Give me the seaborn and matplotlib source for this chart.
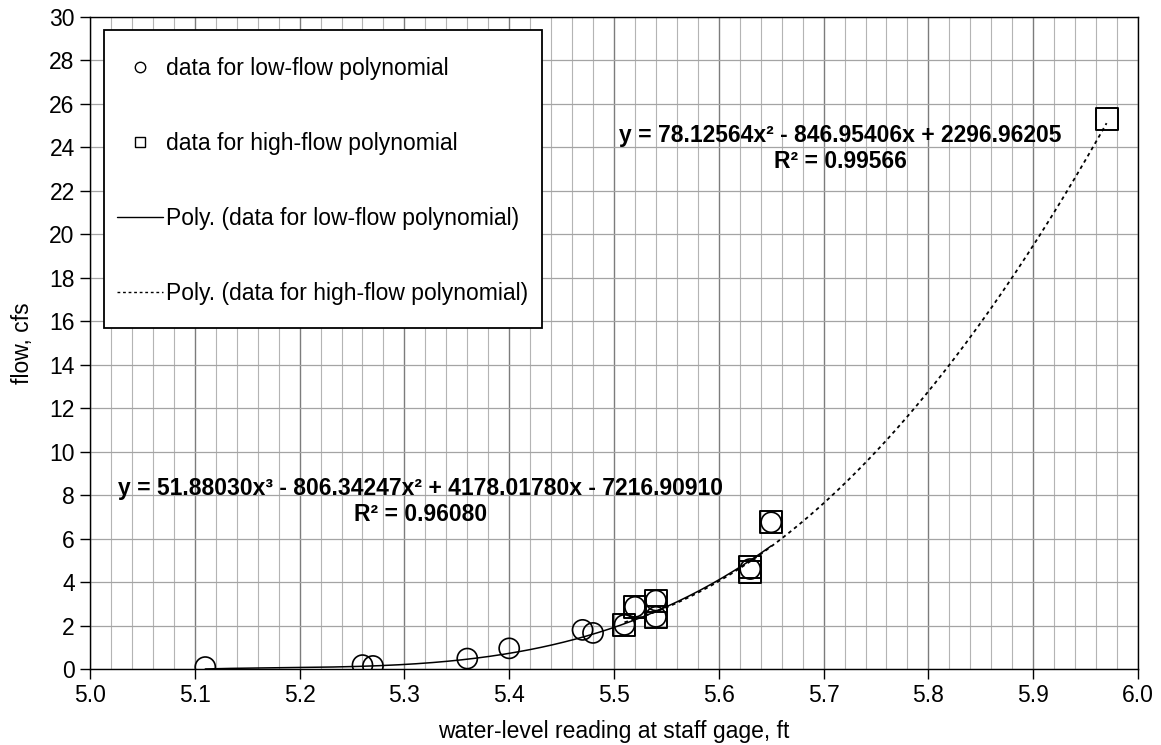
import numpy as np
import pandas as pd
import matplotlib
matplotlib.use("Agg")
import matplotlib.pyplot as plt
from matplotlib.lines import Line2D
from matplotlib.patches import Rectangle
from matplotlib.ticker import MultipleLocator
import seaborn as sns

# data
low_x = [5.11, 5.26, 5.27, 5.36, 5.40, 5.47, 5.48, 5.51, 5.52, 5.54, 5.54, 5.63, 5.65]
low_y = [0.09, 0.18, 0.14, 0.48, 0.95, 1.80, 1.66, 2.03, 2.86, 3.15, 2.40, 4.60, 6.75]
high_x = [5.51, 5.52, 5.54, 5.54, 5.63, 5.63, 5.65, 5.97]
high_y = [2.03, 2.86, 3.15, 2.40, 4.45, 4.70, 6.75, 25.30]

# trendline coefficients as printed on the chart
low_coef = [51.88030, -806.34247, 4178.01780, -7216.90910]
high_coef = [78.12564, -846.95406, 2296.96205]
low_eq = "y = 51.88030x³ - 806.34247x² + 4178.01780x - 7216.90910\nR² = 0.96080"
high_eq = "y = 78.12564x² - 846.95406x + 2296.96205\nR² = 0.99566"

legend_labels = ["data for low-flow polynomial", "data for high-flow polynomial",
                 "Poly. (data for low-flow polynomial)", "Poly. (data for high-flow polynomial)"]

sns.set_style("white")
plt.rcParams['font.family'] = ['Liberation Sans', 'DejaVu Sans']
plt.rcParams.update({'text.color': 'black', 'axes.labelcolor': 'black',
                     'xtick.color': 'black', 'ytick.color': 'black'})

fig = plt.figure(figsize=(11.61, 7.45), dpi=100)
ax = fig.add_axes([90 / 1161, 76 / 745, 1048 / 1161, 652 / 745])

# grid
ax.set_xlim(5.0, 6.0)
ax.set_ylim(0, 30)
ax.xaxis.set_major_locator(MultipleLocator(0.1))
ax.xaxis.set_minor_locator(MultipleLocator(0.02))
ax.yaxis.set_major_locator(MultipleLocator(2))
ax.grid(which='major', axis='x', color='#7c7c7c', lw=1.0, zorder=0)
ax.grid(which='minor', axis='x', color='#b4b4b4', lw=0.8, zorder=0)
ax.grid(which='major', axis='y', color='#a4a4a4', lw=0.9, zorder=0)
ax.set_axisbelow(True)

# trendlines
xl = np.linspace(min(low_x), max(low_x), 200)
xh = np.linspace(min(high_x), max(high_x), 200)
df_l = pd.DataFrame({"x": xl, "y": np.polyval(low_coef, xl)})
df_h = pd.DataFrame({"x": xh, "y": np.polyval(high_coef, xh)})
sns.lineplot(data=df_l, x="x", y="y", ax=ax, color='black', lw=1.1, zorder=3)
sns.lineplot(data=df_h, x="x", y="y", ax=ax, color='black', lw=1.3, linestyle=(0, (2, 2)), zorder=3)

# points
dh = pd.DataFrame({"x": high_x, "y": high_y})
dl = pd.DataFrame({"x": low_x, "y": low_y})
sns.scatterplot(data=dh, x="x", y="y", ax=ax, marker='s', s=250, facecolor='none',
                edgecolor='black', linewidth=1.4, zorder=4)
sns.scatterplot(data=dl, x="x", y="y", ax=ax, marker='o', s=210, facecolor='none',
                edgecolor='black', linewidth=1.2, zorder=5)

# equations
ax.text(5.315, 7.7, low_eq, ha='center', va='center', fontsize=16.5, fontweight='bold',
        linespacing=1.15, zorder=6)
ax.text(5.716, 23.95, high_eq, ha='center', va='center', fontsize=16.5, fontweight='bold',
        linespacing=1.15, zorder=6)

ax.set_xlabel("water-level reading at staff gage, ft", fontsize=16.5, labelpad=9)
ax.set_ylabel("flow, cfs", fontsize=16.5, labelpad=11)
ticks = np.round(np.arange(5.0, 6.01, 0.1), 1)
ax.set_xticks(ticks)
ax.set_xticklabels([f"{v:.1f}" for v in ticks])
ax.tick_params(axis='both', which='major', labelsize=16.5, direction='out', length=7,
               width=1, color='black', left=True, bottom=True, pad=4)
ax.tick_params(axis='x', which='minor', length=0)
for s in ax.spines.values():
    s.set_color('black')
    s.set_linewidth(1.0)

# legend box
ax.add_patch(Rectangle((14 / 1048, 341 / 652), 438 / 1048, 298 / 652, transform=ax.transAxes,
                       facecolor='white', edgecolor='black', lw=1.3, zorder=7))
handles = [
    Line2D([], [], ls='none', marker='o', mfc='none', mec='black', ms=7.5, mew=1.0),
    Line2D([], [], ls='none', marker='s', mfc='none', mec='black', ms=7.5, mew=1.0),
    Line2D([], [], color='black', lw=1.0),
    Line2D([], [], color='black', lw=1.0, ls=(0, (2, 2))),
]
leg = ax.legend(handles, legend_labels, loc='upper left', bbox_to_anchor=(27 / 1048, 0.938),
                fontsize=16.5, frameon=False, labelspacing=2.27, handlelength=2.0,
                handletextpad=0.15, borderpad=0, borderaxespad=0)
leg.set_zorder(8)

fig.savefig("out.png", dpi=100)
